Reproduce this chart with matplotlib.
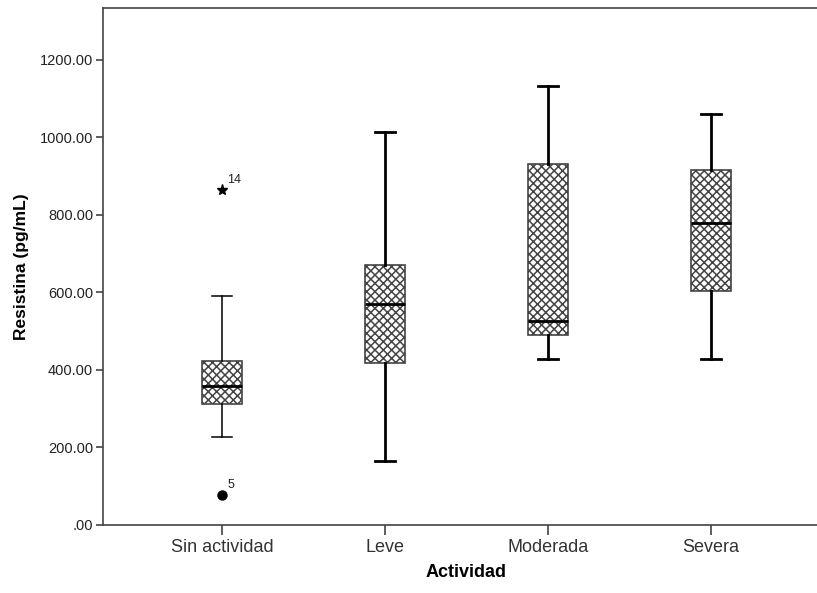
import matplotlib
matplotlib.use("Agg")
import matplotlib.pyplot as plt

# values
categories = ["Sin actividad", "Leve", "Moderada", "Severa"]
whisker_low = [226, 165, 427, 427]
q1 = [311, 419, 490, 603]
median = [358, 570, 527, 778]
q3 = [423, 670, 931, 917]
whisker_high = [592, 1014, 1132, 1059]

# outliers of "Sin actividad": (value, case label, marker)
outlier_values = [865, 78]
outlier_labels = ["14", "5"]
outlier_markers = ["*", "o"]

yticks = [0, 200, 400, 600, 800, 1000, 1200]
ytick_labels = [".00", "200.00", "400.00", "600.00", "800.00", "1000.00", "1200.00"]

plt.rcParams["font.family"] = ["Liberation Sans", "DejaVu Sans"]
plt.rcParams["hatch.linewidth"] = 1.1
plt.rcParams["hatch.color"] = "#222222"

fig = plt.figure(figsize=(8.17, 5.93), dpi=100)
ax = fig.add_axes([0.126, 0.1147, 0.89, 0.872])

stats = []
for i, name in enumerate(categories):
    stats.append({
        "label": name,
        "whislo": whisker_low[i],
        "q1": q1[i],
        "med": median[i],
        "q3": q3[i],
        "whishi": whisker_high[i],
        "fliers": [],
    })

positions = list(range(1, len(categories) + 1))
bp = ax.bxp(stats, positions=positions, widths=0.25, patch_artist=True,
            showfliers=False,
            boxprops=dict(facecolor="white", edgecolor="#444444", linewidth=1.2, hatch="xxxx"),
            medianprops=dict(color="black", linewidth=2),
            whiskerprops=dict(color="black", linewidth=2),
            capprops=dict(color="black", linewidth=2),
            capwidths=0.125)

# first group is drawn with thinner lines in the original
for line in bp["whiskers"][0:2] + bp["caps"][0:2]:
    line.set_linewidth(1.1)

for val, lab, mk in zip(outlier_values, outlier_labels, outlier_markers):
    if mk == "*":
        ax.plot(1, val, marker="*", color="black", markersize=8, linestyle="none")
    else:
        ax.plot(1, val, marker="o", color="black", markersize=6.5, linestyle="none")
    ax.annotate(lab, (1, val), xytext=(4, 3), textcoords="offset points",
                fontsize=9, color="#222222", va="bottom", ha="left")

ax.set_xlim(0.27, 4.73)
ax.set_ylim(0, 1334)
ax.set_yticks(yticks)
ax.set_yticklabels(ytick_labels)
ax.set_xticks(positions)
ax.set_xticklabels(categories)

for side in ["top", "bottom", "left"]:
    ax.spines[side].set_color("#444444")
    ax.spines[side].set_linewidth(1.2)
ax.spines["right"].set_visible(False)

ax.tick_params(axis="y", direction="out", length=5, width=1.2, color="#444444",
               labelsize=10.5, labelcolor="#222222", pad=2)
ax.tick_params(axis="x", direction="out", length=7, width=1.2, color="#444444",
               labelsize=13, labelcolor="#333333", pad=3)

ax.set_ylabel("Resistina (pg/mL)", fontsize=12.5, fontweight="bold", labelpad=8)
ax.set_xlabel("Actividad", fontsize=13, fontweight="bold", labelpad=6)

fig.savefig("out.png", dpi=100)
